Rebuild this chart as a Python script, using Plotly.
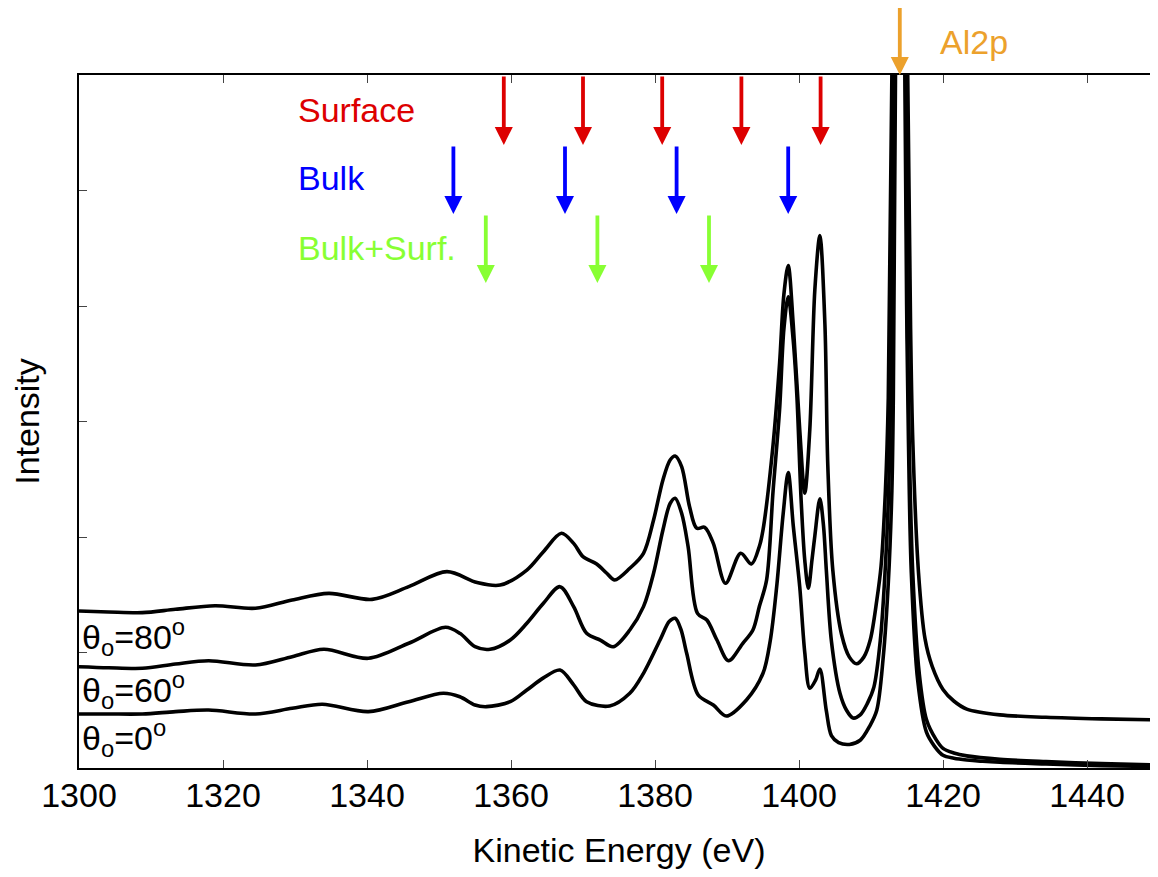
import plotly.graph_objects as go

# ---------------- data ----------------
e80 = [1300, 1304.1, 1308.8, 1313.4, 1318.9, 1324.5, 1329.6, 1334.7, 1340.7, 1345.8, 1351.1,
       1355.3, 1358.5, 1362.2, 1364.5, 1367.0, 1368.7, 1370.0, 1371.9, 1373.3, 1374.4, 1376.5,
       1378.4, 1379.8, 1381.1, 1382.1, 1382.8, 1383.7, 1384.8, 1385.8, 1386.9, 1388.1, 1389.8,
       1391.9, 1393.4, 1394.5, 1395.0, 1396.4, 1397.3, 1397.9, 1398.5, 1399.2, 1400.1, 1400.8,
       1401.5, 1402.2, 1402.9, 1403.6, 1404.0, 1404.7, 1405.9, 1407.0, 1408.0, 1409.0, 1409.9,
       1410.8, 1411.4, 1412.0, 1412.4, 1412.9, 1414.1, 1415.1, 1415.5, 1415.8, 1416.6, 1417.5,
       1418.5, 1420.0, 1421.5, 1423.3, 1427.9, 1434.3, 1442.0, 1450.0]
i80 = [1.359, 1.351, 1.345, 1.374, 1.405, 1.383, 1.455, 1.512, 1.46, 1.57, 1.70,
       1.605, 1.584, 1.714, 1.873, 2.032, 1.945, 1.83, 1.766, 1.686, 1.628, 1.729,
       1.859, 2.147, 2.494, 2.667, 2.701, 2.61, 2.262, 2.075, 2.084, 1.945, 1.599,
       1.859, 1.766, 1.92, 2.06, 2.8, 3.5, 4.1, 4.35, 3.84, 2.93, 2.38,
       2.93, 4.14, 4.61, 3.84, 2.62, 1.71, 1.16, 0.96, 0.903, 0.96, 1.11,
       1.45, 1.75, 2.4, 3.2, 6.0, 40.0, 6.0, 3.8, 2.84, 1.69, 1.12,
       0.88, 0.68, 0.58, 0.51, 0.46, 0.439, 0.425, 0.416]

e60 = [1300, 1304.1, 1308.8, 1313.4, 1318.0, 1324.5, 1329.6, 1334.0, 1340.2, 1345.8, 1350.9,
       1352.9, 1355.0, 1357.1, 1359.9, 1362.2, 1364.5, 1366.8, 1368.7, 1370.5, 1372.4, 1374.2,
       1376.5, 1378.4, 1379.8, 1381.1, 1382.1, 1382.8, 1383.7, 1384.6, 1385.9, 1387.2, 1388.6,
       1390.2, 1392.2, 1393.6, 1394.5, 1395.5, 1396.4, 1397.3, 1397.9, 1398.5, 1399.2, 1399.7,
       1400.3, 1400.8, 1401.3, 1401.8, 1402.2, 1402.9, 1403.4, 1403.8, 1404.5, 1405.7, 1406.6,
       1407.5, 1408.5, 1409.5, 1410.4, 1411.3, 1412.0, 1412.5, 1412.8, 1413.1, 1414.1, 1414.8,
       1415.05, 1415.3, 1415.8, 1416.7, 1417.7, 1419.0, 1420.0, 1421.5, 1423.3, 1427.9, 1434.3,
       1442.0, 1450.0]
i60 = [0.877, 0.868, 0.863, 0.90, 0.929, 0.892, 0.964, 1.028, 0.95, 1.08, 1.218,
       1.166, 1.05, 1.028, 1.108, 1.253, 1.426, 1.57, 1.397, 1.166, 1.108, 1.05,
       1.195, 1.397, 1.686, 2.061, 2.29, 2.335, 2.205, 1.916, 1.339, 1.281, 1.108,
       0.929, 1.08, 1.195, 1.40, 1.628, 2.4, 3.1, 3.8, 4.08, 3.7, 3.23,
       2.315, 1.8, 1.556, 1.8, 2.01, 2.33, 2.1, 1.708, 1.10, 0.645, 0.50,
       0.433, 0.46, 0.56, 0.70, 1.11, 1.75, 2.5, 3.6, 6.0, 40.0, 6.0,
       4.0, 2.84, 1.69, 0.82, 0.42, 0.25, 0.17, 0.13, 0.105, 0.075, 0.055,
       0.038, 0.026]

e0 = [1300, 1304.1, 1308.8, 1313.4, 1318.0, 1324.5, 1329.6, 1333.8, 1340.2, 1345.8, 1350.6,
      1352.9, 1355.0, 1356.6, 1359.9, 1362.2, 1364.5, 1366.8, 1368.7, 1370.5, 1373.7, 1376.5,
      1378.4, 1380.7, 1382.0, 1382.8, 1383.6, 1384.4, 1386.0, 1388.1, 1389.9, 1392.7, 1395.0,
      1396.0, 1396.9, 1397.8, 1398.5, 1399.2, 1400.1, 1400.8, 1401.5, 1402.3, 1402.9, 1403.8,
      1404.5, 1405.5, 1407.0, 1408.5, 1409.8, 1410.8, 1411.7, 1412.4, 1412.9, 1413.1, 1413.4,
      1414.1, 1414.7, 1414.95, 1415.2, 1415.6, 1416.5, 1417.7, 1418.8, 1420.0, 1421.5, 1423.3,
      1427.9, 1434.3, 1442.0, 1450.0]
i0 = [0.468, 0.468, 0.468, 0.488, 0.502, 0.468, 0.517, 0.552, 0.488, 0.574, 0.647,
      0.617, 0.545, 0.531, 0.574, 0.675, 0.78, 0.848, 0.72, 0.574, 0.537, 0.647,
      0.82, 1.108, 1.27, 1.296, 1.2, 0.993, 0.632, 0.545, 0.45, 0.589, 0.82,
      1.1, 1.57, 2.2, 2.558, 2.1, 1.57, 1.0, 0.69, 0.76, 0.857, 0.494,
      0.28, 0.22, 0.204, 0.24, 0.36, 0.50, 0.96, 1.6, 2.4, 3.2, 6.0,
      40.0, 6.0, 4.0, 2.84, 1.69, 0.75, 0.31, 0.19, 0.11, 0.085, 0.07,
      0.05, 0.035, 0.02, 0.012]

curve_labels = ["θ<sub>o</sub>=80<sup>o</sup>", "θ<sub>o</sub>=60<sup>o</sup>", "θ<sub>o</sub>=0<sup>o</sup>"]
label_levels = [1.134, 0.675, 0.26]

surface_e = [1359, 1370, 1381, 1392, 1403]
bulk_e = [1352, 1367.5, 1383, 1398.5]
bulksurf_e = [1356.5, 1372, 1387.5]
al2p_e = [1414.0]

x_ticks = [1300, 1320, 1340, 1360, 1380, 1400, 1420, 1440]

# ---------------- figure ----------------
FONT = "Liberation Sans, Arial, Helvetica, sans-serif"
fig = go.Figure()
for ex, iy in [(e80, i80), (e60, i60), (e0, i0)]:
    fig.add_trace(go.Scatter(x=ex, y=iy, mode="lines",
                             line=dict(color="black", width=3.6, shape="spline", smoothing=0.9),
                             showlegend=False, hoverinfo="skip"))

RED, BLUE, GREEN, ORANGE = "#DD0000", "#0000FF", "#88FF33", "#ECA12C"
rows = [(surface_e, 6.0, 5.394, RED),
        (bulk_e, 5.394, 4.797, BLUE),
        (bulksurf_e, 4.797, 4.199, GREEN),
        (al2p_e, 6.606, 6.0, ORANGE)]
annotations = []
for xs, ytail, ytip, col in rows:
    for xv in xs:
        annotations.append(dict(x=xv, y=ytip, ax=xv, ay=ytail, xref="x", yref="y",
                                axref="x", ayref="y", text="", showarrow=True,
                                arrowhead=2, arrowsize=0.95, arrowwidth=3.8,
                                arrowcolor=col))

for txt, yv, col, xv in [("Surface", 5.70, RED, 1330.2),
                         ("Bulk", 5.11, BLUE, 1330.2),
                         ("Bulk+Surf.", 4.50, GREEN, 1330.2)]:
    annotations.append(dict(x=xv, y=yv, xref="x", yref="y", text=txt, showarrow=False,
                            xanchor="left", yanchor="middle",
                            font=dict(family=FONT, size=34, color=col)))
# Al2p label sits above the frame -> paper y
annotations.append(dict(x=1419.3, y=1.0477, xref="x", yref="paper", text="Al2p",
                        showarrow=False, xanchor="left", yanchor="middle",
                        font=dict(family=FONT, size=34, color=ORANGE)))

for txt, yv in zip(curve_labels, label_levels):
    annotations.append(dict(x=1300.1, y=yv, xref="x", yref="y", text=txt, showarrow=False,
                            xanchor="left", yanchor="middle",
                            font=dict(family=FONT, size=34, color="black")))

fig.update_layout(
    width=1158, height=877,
    margin=dict(l=71, r=7, t=67, b=117),
    paper_bgcolor="white", plot_bgcolor="white",
    font=dict(family=FONT, size=34, color="black"),
    annotations=annotations,
    xaxis=dict(range=[1300, 1450], tickvals=x_ticks, ticks="inside", ticklen=8,
               tickwidth=1, tickcolor="#444", showline=True, linecolor="black",
               linewidth=2, mirror="ticks", showgrid=False, zeroline=False,
               ticklabelstandoff=-4,
               tickfont=dict(family=FONT, size=34, color="black"),
               title=dict(text="Kinetic Energy (eV)", standoff=25,
                          font=dict(family=FONT, size=34, color="black")),
               automargin=False),
    yaxis=dict(range=[0, 6], tickvals=[1, 2, 3, 4, 5], ticks="inside", ticklen=8,
               tickwidth=1, tickcolor="#444", showline=True, linecolor="black",
               linewidth=2, mirror="ticks", showgrid=False, zeroline=False,
               showticklabels=False,
               title=dict(text="Intensity", standoff=34,
                          font=dict(family=FONT, size=34, color="black")),
               automargin=False),
)

fig.write_html("out.html")
